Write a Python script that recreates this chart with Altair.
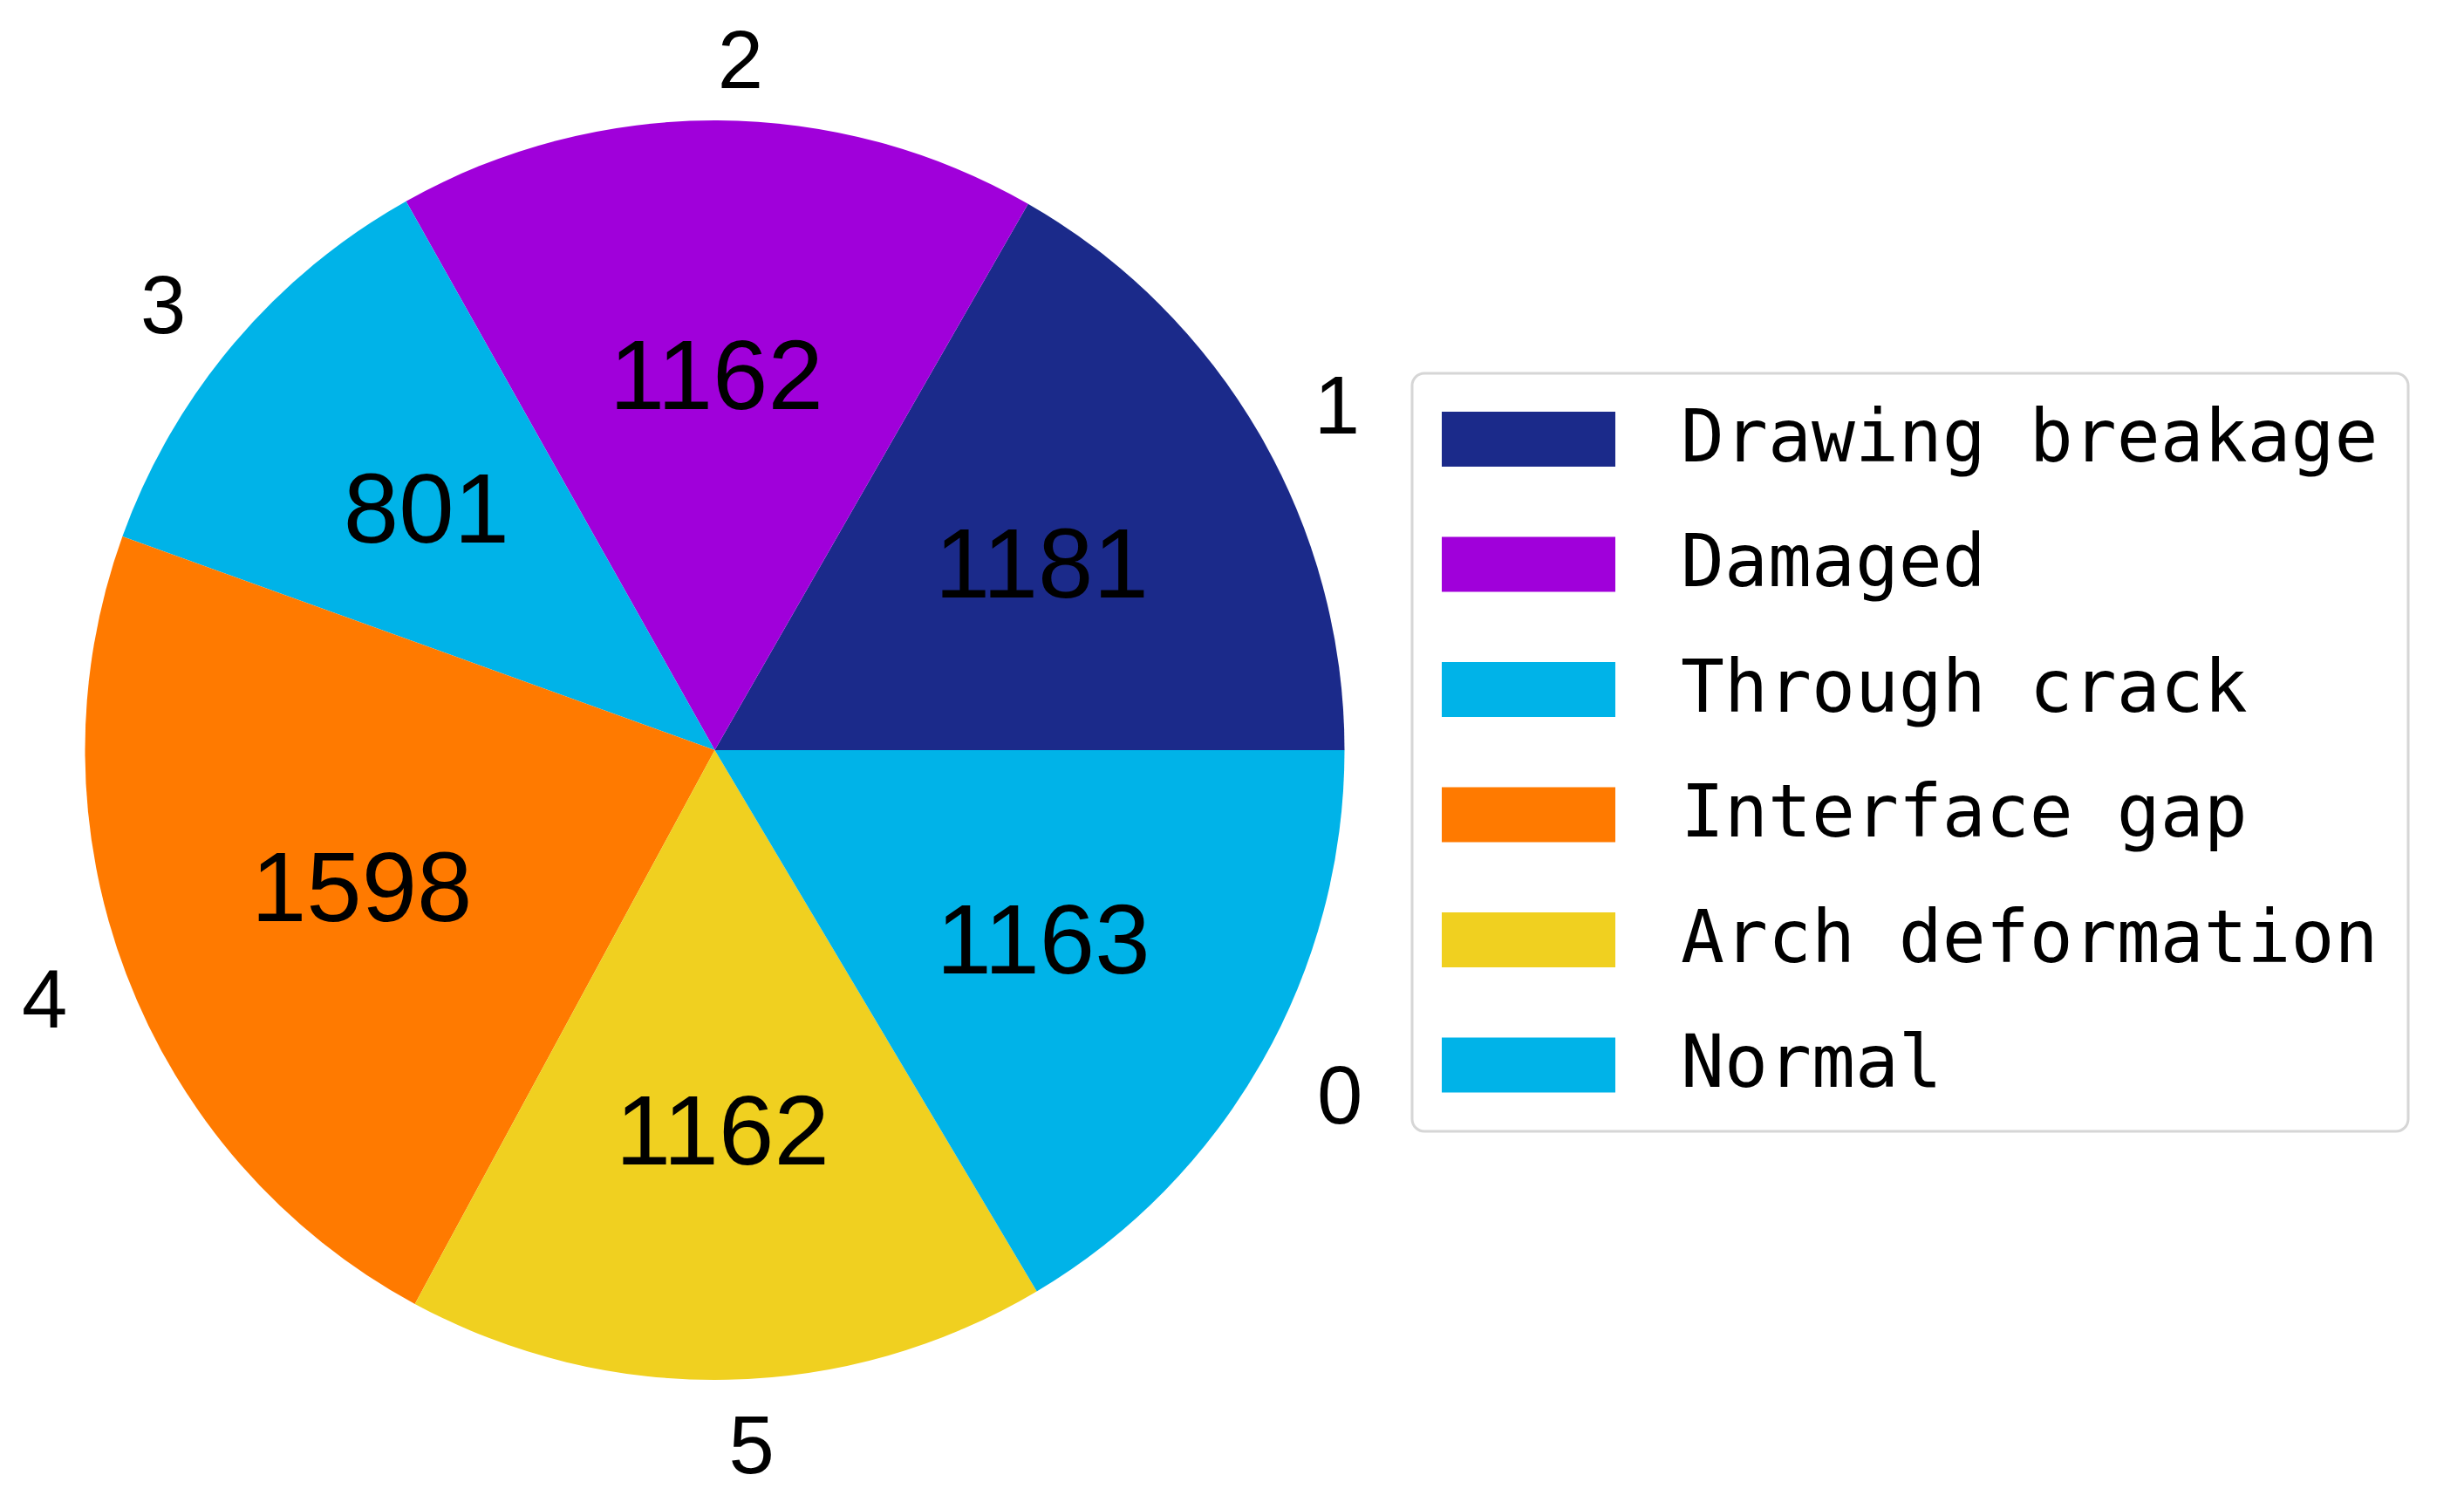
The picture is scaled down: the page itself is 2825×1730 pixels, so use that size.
import math
import altair as alt
import pandas as pd

# ---- data ----
classes = ["Drawing breakage", "Damaged", "Through crack", "Interface gap", "Arch deformation", "Normal"]
codes = ["1", "2", "3", "4", "5", "0"]
counts = [1181, 1162, 801, 1598, 1162, 1163]
colors = ["#1b2a8a", "#a000da", "#00b3e8", "#ff7a00", "#f0d020", "#00b3e8"]

# ---- table (wedges run counter-clockwise from 3 o'clock in the reference) ----
n = len(counts)
total = sum(counts)
rows = []
cum = 0
for i, (c, k, v) in enumerate(zip(classes, codes, counts)):
    mid = (cum + v / 2) / total * 2 * math.pi
    cum += v
    right = math.cos(mid) >= 0
    rows.append(dict(cls=c, code=k, count=v, ord=n - 1 - i,
                     code_r=k if right else "", code_l="" if right else k))
df = pd.DataFrame(rows)

CX, CY, R = 811.5, 852, 722
NUM_FONT = "Liberation Sans Narrow, Arial Narrow, Liberation Sans"

base = alt.Chart(df).encode(
    theta=alt.Theta("count:Q", stack=True,
                    scale=alt.Scale(range=[math.pi / 2, math.pi / 2 + 2 * math.pi])),
    order=alt.Order("ord:Q", sort="ascending"),
    x=alt.value(CX),
    y=alt.value(CY),
)

pie = base.mark_arc(outerRadius=R).encode(
    color=alt.Color(
        "cls:N",
        scale=alt.Scale(domain=classes, range=colors),
        legend=alt.Legend(
            title=None,
            orient="none",
            legendX=1611,
            legendY=420,
            # wide, flat swatch: 199 x 63 px
            symbolType="M-3.1587,-1H3.1587V1H-3.1587Z",
            symbolSize=3969,
            symbolOffset=58,
            symbolStrokeWidth=0,
            symbolOpacity=1,
            labelFont="DejaVu Sans Mono",
            labelFontSize=83,
            labelColor="black",
            labelOffset=133,
            labelLimit=2000,
            rowPadding=59.5,
            padding=34,
            strokeColor="#d6d6d6",
            fillColor="white",
            cornerRadius=14,
        ),
    )
)

inner = base.mark_text(radius=0.6 * R, font=NUM_FONT, fontSize=114, color="black",
                       align="center", baseline="middle", dy=8).encode(text="count:Q")
outer_r = base.mark_text(radius=1.1 * R, font=NUM_FONT, fontSize=94, color="black",
                         align="left", baseline="middle", dy=7).encode(text="code_r:N")
outer_l = base.mark_text(radius=1.1 * R, font=NUM_FONT, fontSize=94, color="black",
                         align="right", baseline="middle", dy=7).encode(text="code_l:N")

chart = (
    alt.layer(pie, inner, outer_r, outer_l)
    .properties(width=2800, height=1700, padding=0,
                autosize=alt.AutoSizeParams(type="none"), background="white")
    .configure_view(strokeWidth=0)
    .configure_legend(strokeWidth=3)
)

chart.save("out.html", embed_options={"renderer": "svg", "actions": False})
